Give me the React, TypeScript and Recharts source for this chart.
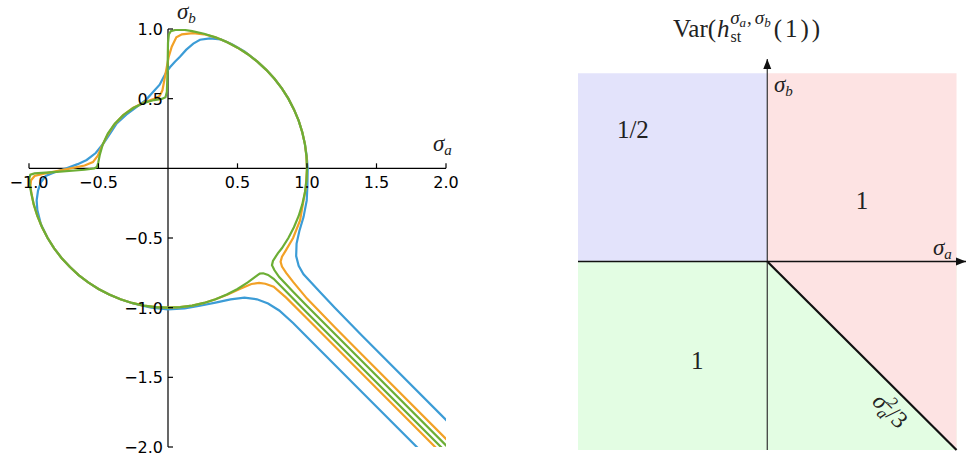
import React from 'react';
import {
  LineChart, Line, XAxis, YAxis, ReferenceLine,
  ComposedChart, Area, ReferenceArea, ReferenceDot,
} from 'recharts';

// curve points (σa, σb), in drawing order
const blueCurve: [number, number][] = [
  [2.05, -2.26], [1.4, -1.61], [1.0, -1.21], [0.9, -1.11], [0.8, -1.02], [0.72, -0.97],
  [0.64, -0.94], [0.55, -0.928], [0.45, -0.94], [0.35, -0.962], [0.23, -0.986], [0.12, -1.005],
  [0.0, -1.012], [-0.12, -1.0], [-0.25, -0.97], [-0.342, -0.94], [-0.423, -0.906], [-0.5, -0.866],
  [-0.574, -0.819], [-0.643, -0.766], [-0.707, -0.707], [-0.766, -0.643], [-0.819, -0.574],
  [-0.866, -0.5], [-0.915, -0.4], [-0.94, -0.3], [-0.945, -0.23], [-0.935, -0.16],
  [-0.915, -0.1], [-0.88, -0.055], [-0.82, -0.03], [-0.73, 0.0], [-0.65, 0.03], [-0.585, 0.06],
  [-0.52, 0.11], [-0.465, 0.178], [-0.41, 0.26], [-0.369, 0.322], [-0.3, 0.385], [-0.225, 0.441],
  [-0.16, 0.49], [-0.106, 0.549], [-0.06, 0.6], [-0.034, 0.65], [-0.012, 0.69], [0.014, 0.725],
  [0.05, 0.765], [0.086, 0.801], [0.13, 0.85], [0.182, 0.895], [0.23, 0.923], [0.302, 0.933],
  [0.38, 0.925], [0.46, 0.89], [0.55, 0.84], [0.643, 0.766], [0.707, 0.707], [0.766, 0.643],
  [0.819, 0.574], [0.866, 0.5], [0.906, 0.423], [0.94, 0.342], [0.966, 0.259], [0.985, 0.174],
  [0.998, 0.087], [1.005, 0.0], [1.003, -0.12], [0.998, -0.23], [0.975, -0.35], [0.945, -0.45],
  [0.925, -0.54], [0.922, -0.63], [0.94, -0.7], [0.975, -0.76], [1.03, -0.82], [1.1, -0.895],
  [1.2, -1.0], [1.4, -1.205], [2.05, -1.855],
];

const orangeCurve: [number, number][] = [
  [2.05, -2.128], [1.4, -1.478], [1.0, -1.078], [0.85, -0.928], [0.76, -0.85], [0.7, -0.828],
  [0.655, -0.822], [0.6, -0.83], [0.52, -0.865], [0.43, -0.906], [0.342, -0.94], [0.259, -0.966],
  [0.174, -0.985], [0.087, -0.996], [0.0, -1.0], [-0.087, -0.996], [-0.174, -0.985], [-0.259, -0.966],
  [-0.342, -0.94], [-0.423, -0.906], [-0.5, -0.866], [-0.574, -0.819], [-0.643, -0.766],
  [-0.707, -0.707], [-0.766, -0.643], [-0.819, -0.574], [-0.866, -0.5], [-0.906, -0.423],
  [-0.94, -0.342], [-0.966, -0.259], [-0.98, -0.19], [-0.99, -0.13], [-0.985, -0.085], [-0.96, -0.055],
  [-0.9, -0.04], [-0.8, -0.02], [-0.7, 0.0], [-0.6, 0.02], [-0.54, 0.045], [-0.505, 0.09],
  [-0.48, 0.15], [-0.44, 0.23], [-0.39, 0.31], [-0.325, 0.38], [-0.25, 0.435], [-0.17, 0.475],
  [-0.1, 0.5], [-0.06, 0.52], [-0.04, 0.56], [-0.025, 0.64], [-0.01, 0.72], [0.005, 0.8],
  [0.027, 0.873], [0.06, 0.94], [0.1, 0.962], [0.18, 0.97], [0.26, 0.962], [0.342, 0.94],
  [0.423, 0.906], [0.5, 0.866], [0.574, 0.819], [0.643, 0.766], [0.707, 0.707], [0.766, 0.643],
  [0.819, 0.574], [0.866, 0.5], [0.906, 0.423], [0.94, 0.342], [0.966, 0.259], [0.985, 0.174],
  [0.996, 0.087], [1.0, 0.0], [0.99, -0.15], [0.975, -0.23], [0.95, -0.374], [0.9, -0.5],
  [0.85, -0.585], [0.82, -0.635], [0.81, -0.67], [0.82, -0.705], [0.85, -0.75], [0.9, -0.815],
  [1.0, -0.935], [1.2, -1.14], [1.4, -1.342], [2.05, -1.992],
];

const greenCurve: [number, number][] = [
  [2.05, -2.086], [1.4, -1.436], [1.0, -1.036], [0.85, -0.884], [0.76, -0.793], [0.72, -0.765],
  [0.685, -0.753], [0.66, -0.755], [0.625, -0.78], [0.574, -0.819], [0.5, -0.866], [0.423, -0.906],
  [0.342, -0.94], [0.259, -0.966], [0.174, -0.985], [0.087, -0.996], [0.0, -1.0], [-0.087, -0.996],
  [-0.174, -0.985], [-0.259, -0.966], [-0.342, -0.94], [-0.423, -0.906], [-0.5, -0.866],
  [-0.574, -0.819], [-0.643, -0.766], [-0.707, -0.707], [-0.766, -0.643], [-0.819, -0.574],
  [-0.866, -0.5], [-0.906, -0.423], [-0.94, -0.342], [-0.966, -0.259], [-0.985, -0.174],
  [-0.995, -0.11], [-0.998, -0.07], [-0.99, -0.045],
  [-0.96, -0.036], [-0.8, -0.025], [-0.6, -0.01], [-0.53, 0.0], [-0.51, 0.012], [-0.502, 0.04],
  [-0.49, 0.1], [-0.47, 0.17], [-0.433, 0.25], [-0.383, 0.321], [-0.321, 0.383], [-0.25, 0.433],
  [-0.171, 0.47], [-0.1, 0.49], [-0.045, 0.498], [-0.018, 0.51], [-0.008, 0.55], [-0.003, 0.7],
  [0.0, 0.9], [0.006, 0.96], [0.02, 0.985], [0.06, 0.995], [0.12, 0.993], [0.174, 0.985],
  [0.259, 0.966], [0.342, 0.94], [0.423, 0.906], [0.5, 0.866], [0.574, 0.819], [0.643, 0.766],
  [0.707, 0.707], [0.766, 0.643], [0.819, 0.574], [0.866, 0.5], [0.906, 0.423], [0.94, 0.342],
  [0.966, 0.259], [0.985, 0.174], [0.996, 0.087], [1.0, 0.0], [0.996, -0.087], [0.985, -0.174],
  [0.966, -0.259], [0.94, -0.342], [0.906, -0.423], [0.866, -0.5], [0.819, -0.574], [0.79, -0.61],
  [0.755, -0.665], [0.748, -0.695], [0.765, -0.73], [0.8, -0.78], [0.9, -0.885], [1.0, -0.988],
  [1.4, -1.388], [2.05, -2.038],
];

const xTicks = [-1, -0.5, 0.5, 1, 1.5, 2];
const yTicks = [1, 0.5, -0.5, -1, -1.5, -2];

// right panel: boundary σb = -σa between the two "1" regions
const diagonal = [{ x: 0, y: 0 }, { x: 1, y: -1 }];

const toPts = (a: [number, number][]) => a.map(([x, y]) => ({ x, y }));

const W = 460, H = 464;
const AX_W = 29, AX_H = 17;
const M = { top: 29, right: 14, left: 0, bottom: 0 };
const PW = W - AX_W - M.right;
const PH = H - M.top - AX_H;
// pixel position of the origin (axes cross there)
const X0 = AX_W + PW * (1 / 3);
const Y0 = M.top + PH * (1 / 3);

const fmt = (v: number) => (v < 0 ? '\u2212' : '') + Math.abs(v).toFixed(1);
const tickFont = { fontFamily: 'DejaVu Sans', fontSize: 16, fill: '#000' };
const serif = 'Liberation Serif';

const XTick = (p: any) => (
  <g>
    <line x1={p.x} x2={p.x} y1={Y0} y2={Y0 - 5} stroke="#000" strokeWidth={1.2} />
    <text x={p.x} y={Y0 + 20} textAnchor="middle" {...tickFont}>{fmt(p.payload.value)}</text>
  </g>
);

const YTick = (p: any) => (
  <g>
    <line x1={X0} x2={X0 + 5} y1={p.y} y2={p.y} stroke="#000" strokeWidth={1.2} />
    <text x={X0 - 5} y={p.y + 6} textAnchor="end" {...tickFont}>{fmt(p.payload.value)}</text>
  </g>
);

const Sigma = ({ x, y, sub }: { x: number; y: number; sub: string }) => (
  <text x={x} y={y} fontFamily={serif} fontStyle="italic" fontSize={23} fill="#222">
    σ<tspan fontSize={15} dy={4}>{sub}</tspan>
  </text>
);

const textAt = (content: React.ReactNode, size = 25) => (p: any) => (
  <text x={p.cx} y={p.cy + 8} textAnchor="middle" fontFamily={serif} fontSize={size} fill="#222">
    {content}
  </text>
);

const lineProps = { type: 'linear' as const, strokeWidth: 2.2, dot: false, isAnimationActive: false };

export default function App() {
  return (
    <div style={{ position: 'fixed', left: 0, top: 0, width: 967, height: 464, background: '#fff' }}>
      <div style={{ position: 'absolute', left: 0, top: 0 }}>
        <LineChart width={W} height={H} margin={M}>
          <XAxis type="number" dataKey="x" domain={[-1, 2]} ticks={xTicks} interval={0}
            allowDataOverflow height={AX_H} axisLine={false} tickLine={false} tick={XTick} />
          <YAxis type="number" dataKey="y" domain={[-2, 1]} ticks={yTicks} interval={0}
            allowDataOverflow width={AX_W} axisLine={false} tickLine={false} tick={YTick} />
          <ReferenceLine y={0} stroke="#000" strokeWidth={1.2} />
          <ReferenceLine x={0} stroke="#000" strokeWidth={1.2} />
          <Line data={toPts(blueCurve)} dataKey="y" stroke="#3c9cd6" {...lineProps} />
          <Line data={toPts(orangeCurve)} dataKey="y" stroke="#f2a126" {...lineProps} />
          <Line data={toPts(greenCurve)} dataKey="y" stroke="#6cae35" {...lineProps} />
        </LineChart>
      </div>

      <div style={{ position: 'absolute', left: 560, top: 0 }}>
        <ComposedChart width={407} height={464} margin={{ top: 59, right: 1, left: 18, bottom: 14 }}>
          <XAxis type="number" dataKey="x" domain={[-1, 1.05]} hide />
          <YAxis type="number" domain={[-1, 1.075]} hide />
          <ReferenceArea x1={-1} x2={0} y1={0} y2={1} fill="#e3e3fb" fillOpacity={1} stroke="none" />
          <ReferenceArea x1={0} x2={1} y1={0} y2={1} fill="#fde3e3" fillOpacity={1} stroke="none" />
          <ReferenceArea x1={-1} x2={1} y1={-1} y2={0} fill="#e3fde3" fillOpacity={1} stroke="none" />
          <Area data={diagonal} dataKey="y" baseValue={0} type="linear" fill="#fde3e3" fillOpacity={1}
            stroke="none" isAnimationActive={false} />
          <Line data={diagonal} dataKey="y" type="linear" stroke="#111" strokeWidth={2.2}
            dot={false} isAnimationActive={false} />
          <ReferenceLine x={0} stroke="#333" strokeWidth={1.2} />
          <ReferenceLine y={0} stroke="#111" strokeWidth={1.6} />
          <ReferenceDot x={0} y={1.075} ifOverflow="visible"
            shape={(p: any) => <polygon points={`${p.cx},${p.cy} ${p.cx - 4},${p.cy + 10} ${p.cx + 4},${p.cy + 10}`} fill="#111" />} />
          <ReferenceDot x={1.05} y={0} ifOverflow="visible"
            shape={(p: any) => <polygon points={`${p.cx},${p.cy} ${p.cx - 10},${p.cy - 4} ${p.cx - 10},${p.cy + 4}`} fill="#111" />} />
          <ReferenceDot x={-0.71} y={0.7} ifOverflow="visible" shape={textAt('1/2')} />
          <ReferenceDot x={0.5} y={0.32} ifOverflow="visible" shape={textAt('1')} />
          <ReferenceDot x={-0.37} y={-0.53} ifOverflow="visible" shape={textAt('1')} />
          <ReferenceDot x={0.65} y={-0.79} ifOverflow="visible"
            shape={(p: any) => (
              <text x={p.cx} y={p.cy + 8} textAnchor="middle" fontFamily={serif} fontSize={24} fill="#222"
                transform={`rotate(45 ${p.cx} ${p.cy})`}>
                <tspan fontStyle="italic">σ</tspan>
                <tspan fontSize={16} dy={-10}>2</tspan>
                <tspan fontSize={16} fontStyle="italic" dx={-8} dy={15}>a</tspan>
                <tspan dy={-5}>/3</tspan>
              </text>
            )} />
        </ComposedChart>
      </div>

      <svg width={967} height={464} style={{ position: 'absolute', left: 0, top: 0, pointerEvents: 'none' }}>
        <Sigma x={177} y={19} sub="b" />
        <Sigma x={433} y={151} sub="a" />
        <Sigma x={774} y={92} sub="b" />
        <Sigma x={933} y={255} sub="a" />
        <text x={673} y={37} fontFamily={serif} fontSize={25} fill="#222">
          Var(<tspan fontStyle="italic" dx={1}>h</tspan>
          <tspan fontSize={16} dx={1} dy={5}>st</tspan>
          <tspan fontSize={19} fontStyle="italic" dx={-11} dy={-18}>σ</tspan>
          <tspan fontSize={13} fontStyle="italic" dy={3}>a</tspan>
          <tspan fontSize={19} dx={1} dy={-3}>,</tspan>
          <tspan fontSize={19} fontStyle="italic" dx={3}>σ</tspan>
          <tspan fontSize={13} fontStyle="italic" dy={3}>b</tspan>
          <tspan dy={10} dx={3} letterSpacing={3}>(1))</tspan>
        </text>
      </svg>
    </div>
  );
}
